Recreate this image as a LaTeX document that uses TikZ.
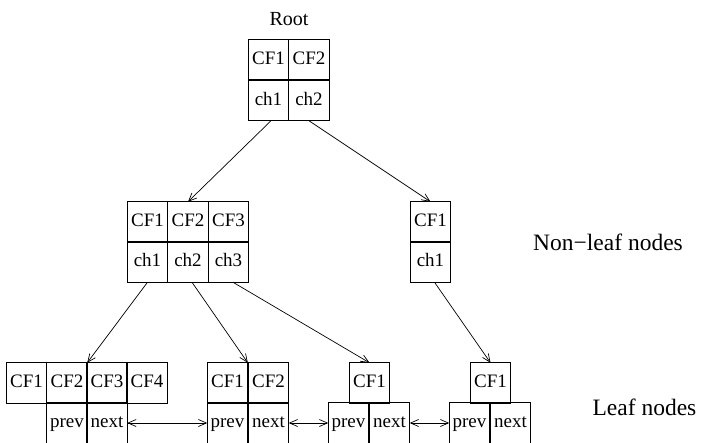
\documentclass[tikz,border=0pt]{standalone}
\usepackage{fontspec}
\setmainfont{Liberation Serif}
\usetikzlibrary{arrows.meta}
\begin{document}
\begin{tikzpicture}[x=1pt,y=-1pt,
  cell/.style={draw,line width=0.8pt,rectangle,inner sep=0pt,outer sep=0pt,
    minimum width=40.5pt,minimum height=40.5pt,
    font=\fontsize{19}{22}\selectfont,text height=13pt,text depth=3.5pt},
  label/.style={anchor=base,inner sep=0pt,font=\fontsize{23.5}{27}\selectfont},
  link/.style={line width=0.7pt,-{Straight Barb[length=8pt,width=7pt]}},
  dlink/.style={line width=0.7pt,{Straight Barb[length=8pt,width=7pt]}-{Straight Barb[length=8pt,width=7pt]}}]
\useasboundingbox (0,0) rectangle (701,442);

% root
\node[anchor=base,inner sep=0pt,font=\fontsize{20}{24}\selectfont] (rootlbl) at (289,25) {Root};
\node[cell] (r1) at (268.5,59.5) {CF1};
\node[cell] (r2) at (309,59.5) {CF2};
\node[cell] (rc1) at (268.5,100.5) {ch1};
\node[cell] (rc2) at (309,100.5) {ch2};

% non-leaf nodes
\node[cell] (a1) at (147.5,222) {CF1};
\node[cell] (a2) at (188,222) {CF2};
\node[cell] (a3) at (228.5,222) {CF3};
\node[cell] (ac1) at (147.5,262) {ch1};
\node[cell] (ac2) at (188,262) {ch2};
\node[cell] (ac3) at (228.5,262) {ch3};

\node[cell] (b1) at (430.5,222) {CF1};
\node[cell] (bc1) at (430.5,262) {ch1};

% leaf nodes
\node[cell] (l1a) at (26.5,383) {CF1};
\node[cell] (l1b) at (67,383) {CF2};
\node[cell] (l1c) at (107,383) {CF3};
\node[cell] (l1d) at (147,383) {CF4};
\node[cell] (l1p) at (67,423) {prev};
\node[cell] (l1n) at (107,423) {next};

\node[cell] (l2a) at (227.5,383) {CF1};
\node[cell] (l2b) at (268.5,383) {CF2};
\node[cell] (l2p) at (227.5,423) {prev};
\node[cell] (l2n) at (268.5,423) {next};

\node[cell] (l3a) at (369.5,383) {CF1};
\node[cell] (l3p) at (348.5,423) {prev};
\node[cell] (l3n) at (389.5,423) {next};

\node[cell] (l4a) at (490.5,383) {CF1};
\node[cell] (l4p) at (469.5,423) {prev};
\node[cell] (l4n) at (510.5,423) {next};

% side labels
\node[label] (nonleaf) at (608,250) {Non−leaf nodes};
\node[label] (leaf) at (644.5,415) {Leaf nodes};

% child pointers
\draw[link] ([xshift=2.5pt]rc1.south) -- (a2.north);
\draw[link] (rc2.south) -- (b1.north);
\draw[link] (ac1.south) -- (l1b.north east);
\draw[link] ([xshift=4pt]ac2.south) -- (l2a.north east);
\draw[link] ([xshift=4.5pt]ac3.south) -- (l3a.north);
\draw[link] ([xshift=4pt]bc1.south) -- (l4a.north);

% sibling links between leaves
\draw[dlink] (l1n.east) -- (l2p.west);
\draw[dlink] (l2n.east) -- (l3p.west);
\draw[dlink] (l3n.east) -- (l4p.west);
\end{tikzpicture}
\end{document}
